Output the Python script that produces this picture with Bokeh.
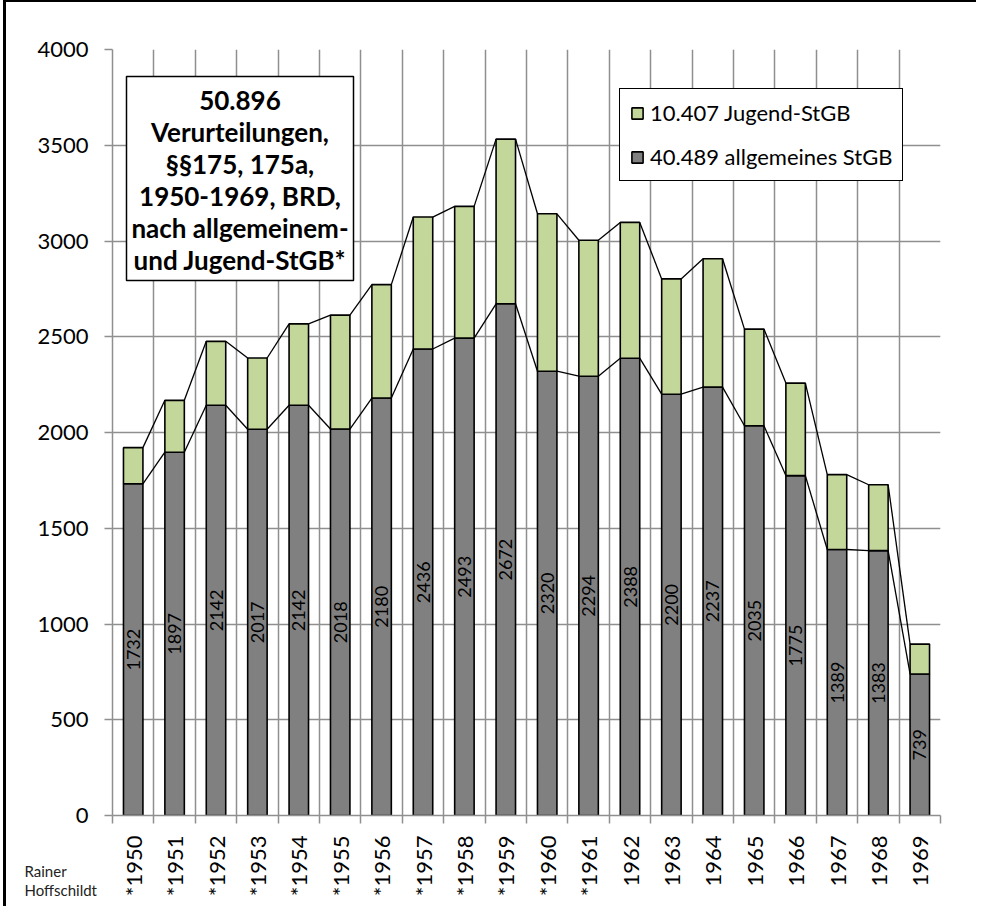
import numpy as np
from bokeh.plotting import figure
from bokeh.layouts import column
from bokeh.models import (Range1d, LinearAxis, FixedTicker, Grid, Legend, LegendItem,
                          Label, BoxAnnotation, ColumnDataSource)
from bokeh.core.properties import value
from bokeh.embed import file_html
from bokeh.resources import INLINE

# ---------------- data ----------------
years = list(range(1950, 1970))
year_labels = ["*1950", "*1951", "*1952", "*1953", "*1954", "*1955", "*1956", "*1957",
               "*1958", "*1959", "*1960", "*1961", "1962", "1963", "1964", "1965",
               "1966", "1967", "1968", "1969"]
allgemein = [1732, 1897, 2142, 2017, 2142, 2018, 2180, 2436, 2493, 2672,
             2320, 2294, 2388, 2200, 2237, 2035, 1775, 1389, 1383, 739]
jugend = [189, 271, 334, 372, 425, 595, 592, 689, 688, 860,
          822, 710, 709, 602, 670, 505, 483, 391, 344, 156]
legend_labels = ["10.407 Jugend-StGB", "40.489 allgemeines StGB"]
title_lines = ["50.896", "Verurteilungen,", "§§175, 175a,", "1950-1969, BRD,",
               "nach allgemeinem-", "und Jugend-StGB*"]
credit_text = "Rainer\nHoffschildt"
y_ticks = [0, 500, 1000, 1500, 2000, 2500, 3000, 3500, 4000]

# ---------------- styling ----------------
FONT = "Lato"
DARK = "#808080"
GREEN = "#C4D79B"
GRID = "#8f8f8f"
BAR_W = 0.47
YMAX = 4000

n = len(years)
xc = [i + 0.5 for i in range(n)]
total = [a + j for a, j in zip(allgemein, jugend)]

# page offset of the figure inside the bordered wrapper
OX, OY = 6, 2
# frame geometry (page px)
FL, FR, FT, FB = 112, 940, 49, 815
def dx(px):
    return (px - FL) / (FR - FL) * n
def dy(py):
    return (FB - py) / (FB - FT) * YMAX

W, H = 970, 904
p = figure(width=W, height=H, x_range=Range1d(0, n), y_range=Range1d(0, YMAX),
           output_backend="svg", toolbar_location=None,
           x_axis_location=None, y_axis_location=None,
           min_border_left=FL - OX, min_border_right=W - (FR - OX),
           min_border_top=FT - OY, min_border_bottom=H - (FB - OY))
p.outline_line_color = None
p.background_fill_color = "white"
p.border_fill_color = "white"

# grids
p.add_layout(Grid(dimension=0, ticker=FixedTicker(ticks=list(range(n + 1))),
                  grid_line_color=GRID, grid_line_width=1.5))
p.add_layout(Grid(dimension=1, ticker=FixedTicker(ticks=y_ticks),
                  grid_line_color=GRID, grid_line_width=1.5))

# y axis
yaxis = LinearAxis(ticker=FixedTicker(ticks=y_ticks), axis_line_color=GRID, axis_line_width=1.5,
                   major_tick_line_color=GRID, major_tick_line_width=1.5,
                   major_tick_out=8, major_tick_in=0, minor_tick_out=0, minor_tick_in=0,
                   major_label_text_font=FONT, major_label_text_font_size="22px",
                   major_label_text_color="black", major_label_standoff=16)
p.add_layout(yaxis, "left")

# x axis: labels at category centres, tick marks (minor) at category boundaries
xaxis = LinearAxis(ticker=FixedTicker(ticks=xc, minor_ticks=list(range(n + 1))),
                   major_label_overrides={x: lab for x, lab in zip(xc, year_labels)},
                   major_label_orientation=np.pi / 2,
                   axis_line_color=GRID, axis_line_width=1.5,
                   major_tick_out=0, major_tick_in=0,
                   minor_tick_out=8, minor_tick_in=0,
                   minor_tick_line_color=GRID, minor_tick_line_width=1.5,
                   major_label_text_font=FONT, major_label_text_font_size="22px",
                   major_label_text_color="black", major_label_standoff=12)
p.add_layout(xaxis, "below")

# bars
src = ColumnDataSource(dict(x=xc, allgemein=allgemein, jugend=jugend, total=total,
                            mid=[a / 2 for a in allgemein], lab=[str(a) for a in allgemein]))
r_dark = p.vbar(x="x", width=BAR_W, bottom=0, top="allgemein", source=src,
                fill_color=DARK, line_color="black", line_width=1.6)
r_green = p.vbar(x="x", width=BAR_W, bottom="allgemein", top="total", source=src,
                 fill_color=GREEN, line_color="black", line_width=1.6)

# series lines
x0 = [xc[i] + BAR_W / 2 for i in range(n - 1)]
x1 = [xc[i + 1] - BAR_W / 2 for i in range(n - 1)]
p.segment(x0=x0, y0=allgemein[:-1], x1=x1, y1=allgemein[1:], line_color="black", line_width=1.3)
p.segment(x0=x0, y0=total[:-1], x1=x1, y1=total[1:], line_color="black", line_width=1.3)

# value labels
p.text(x="x", y="mid", text="lab", source=src, angle=np.pi / 2,
       text_align="center", text_baseline="middle",
       text_font=value(FONT), text_font_size="18px", text_color="black")

# legend
legend = Legend(items=[LegendItem(label=legend_labels[0], renderers=[r_green]),
                       LegendItem(label=legend_labels[1], renderers=[r_dark])],
                location=(619 - FL, FB - 181), orientation="vertical",
                border_line_color="black", border_line_width=1.5, border_line_alpha=1,
                background_fill_color="white", background_fill_alpha=1,
                label_text_font=FONT, label_text_font_size="22px", label_text_color="black",
                glyph_width=14, glyph_height=14, label_standoff=6,
                padding=10, spacing=17, margin=0)
p.add_layout(legend)

# title box
p.add_layout(BoxAnnotation(left=dx(126), right=dx(353), top=dy(76), bottom=dy(280),
                           fill_color="white", fill_alpha=1, line_color="black",
                           line_alpha=1, line_width=1.5))
p.add_layout(Label(x=dx(239.5), y=dy(179), text="\n".join(title_lines),
                   text_align="center", text_baseline="middle",
                   text_font=FONT, text_font_size="26px", text_font_style="bold",
                   text_color="black", text_line_height=1.0))

# credit (outside the frame, canvas coordinates; hosted in the roomy top panel)
p.add_layout(Label(x=24 - OX, y=861 - OY, x_units="canvas", y_units="canvas", text=credit_text,
                   text_align="left", text_baseline="top",
                   text_font=FONT, text_font_size="15px", text_color="#222222",
                   text_line_height=1.1), "above")

# chart-area frame (black top and left edge only, as in the reference)
page = column(p, styles={"border-top": "2px solid black", "border-left": "3px solid black",
                         "border-right": "0px none", "border-bottom": "0px none",
                         "margin-left": "3px", "box-sizing": "content-box",
                         "overflow": "hidden"})

open("out.html", "w").write(file_html(page, INLINE))
